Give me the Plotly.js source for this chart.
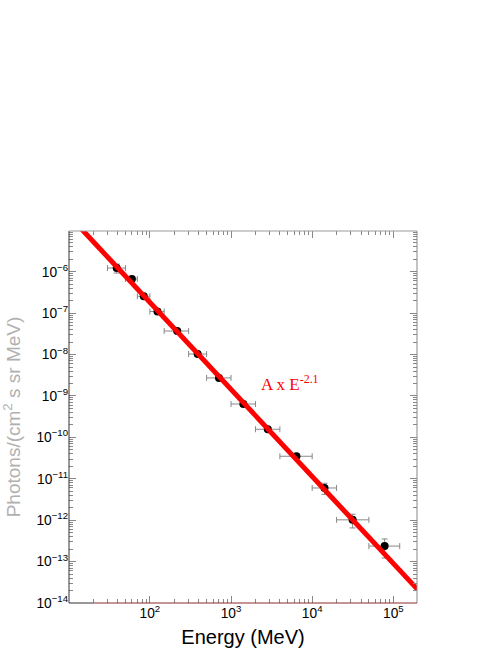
<!DOCTYPE html>
<html>
<head>
<meta charset="utf-8">
<script src="https://cdn.plot.ly/plotly-3.0.1.min.js"></script>
<style>html,body{margin:0;padding:0;background:#fff;}#chart{width:501px;height:649px;}</style>
</head>
<body>
<div id="chart"></div>
<script>
// Measured points (energy in MeV, flux in photons/(cm^2 s sr MeV))
var energy   = [39, 60, 84, 124, 217, 388, 711, 1419, 2840, 6400, 14200, 31500, 78200];
var binLow   = [30, 50, 70, 100, 150, 300, 500, 1000, 2000, 4000, 10000, 20000, 50000];
var binHigh  = [50, 70, 100, 150, 300, 500, 1000, 2000, 4000, 10000, 20000, 50000, 120000];
var flux     = [1.23e-6, 6.7e-7, 2.56e-7, 1.1e-7, 3.7e-8, 1.03e-8, 2.73e-9, 6.4e-10, 1.57e-10, 3.5e-11, 6.0e-12, 1.02e-12, 2.37e-13];
var fluxErr  = [3.0e-7, 6e-8, 2.5e-8, 1e-8, 3e-9, 1e-9, 2.5e-10, 6e-11, 1.5e-11, 4e-12, 1.8e-12, 3.7e-13, 1.15e-13];
// Power-law fit line A x E^-2.1 (end points)
var fitE = [10, 200000];
var fitF = [2.3e-5, 2.1e-14];
var fitLabel = 'A x E<sup>-2.1</sup>';
var xTitle = 'Energy (MeV)';
var yTitle = 'Photons/(cm<sup>2</sup> s sr MeV)';

var errPlus = binHigh.map(function(h, i){ return h - energy[i]; });
var errMinus = binLow.map(function(l, i){ return energy[i] - l; });

var traces = [
  {
    x: energy, y: flux, type: 'scatter', mode: 'markers',
    marker: {color: '#000', size: 8},
    error_x: {type: 'data', symmetric: false, array: errPlus, arrayminus: errMinus, color: '#888', thickness: 1, width: 3},
    error_y: {type: 'data', array: fluxErr, color: '#888', thickness: 1, width: 3},
    hoverinfo: 'x+y'
  },
  {
    x: fitE, y: fitF, type: 'scatter', mode: 'lines',
    line: {color: '#ff0000', width: 5}, hoverinfo: 'skip'
  }
];

var tickFont = {family: 'Liberation Sans, Arial, sans-serif', size: 11, color: '#000'};

var layout = {
  width: 501, height: 649,
  margin: {l: 69, r: 84, t: 231, b: 46},
  paper_bgcolor: '#fff', plot_bgcolor: '#fff',
  showlegend: false,
  xaxis: {
    type: 'log', range: [1.003, 5.292], dtick: 1,
    exponentformat: 'power', showgrid: false, zeroline: false,
    showline: false, mirror: 'ticks',
    ticks: 'inside', ticklen: 7, tickcolor: '#888', tickwidth: 1,
    minor: {ticks: 'inside', ticklen: 4, tickcolor: '#888', dtick: 'D1', showgrid: false},
    tickfont: tickFont,
    title: {text: xTitle, font: {family: 'Liberation Sans, Arial, sans-serif', size: 20, color: '#000'}, standoff: 10}
  },
  yaxis: {
    type: 'log', range: [-14, -5.016], dtick: 1,
    exponentformat: 'power', showgrid: false, zeroline: false,
    showline: false, mirror: 'ticks',
    ticks: 'inside', ticklen: 7, tickcolor: '#888', tickwidth: 1,
    minor: {ticks: 'inside', ticklen: 4, tickcolor: '#888', dtick: 'D1', showgrid: false},
    tickfont: tickFont,
    title: {text: yTitle, font: {family: 'Liberation Sans, Arial, sans-serif', size: 19, color: '#b0b0b0'}, standoff: 15}
  },
  shapes: [
    {type: 'line', xref: 'paper', yref: 'paper', x0: 0, x1: 0, y0: 0, y1: 1, line: {color: '#333', width: 1}},
    {type: 'line', xref: 'paper', yref: 'paper', x0: 1, x1: 1, y0: 0, y1: 1, line: {color: '#888', width: 1}},
    {type: 'line', xref: 'paper', yref: 'paper', x0: 0, x1: 1, y0: 1, y1: 1, line: {color: '#999', width: 1}},
    {type: 'line', xref: 'paper', yref: 'paper', x0: 0, x1: 0.07, y0: 0, y1: 0, line: {color: '#333', width: 1}},
    {type: 'line', xref: 'paper', yref: 'paper', x0: 0.07, x1: 1, y0: 0, y1: 0, line: {color: '#8b2a2a', width: 1}}
  ],
  annotations: [
    {text: fitLabel, xref: 'x', yref: 'y', x: 3.346, y: -8.68, xanchor: 'left', yanchor: 'middle',
     showarrow: false, font: {family: 'Liberation Serif, Times New Roman, serif', size: 17, color: '#ff0000'}}
  ]
};

Plotly.newPlot('chart', traces, layout, {displayModeBar: false, staticPlot: true});
</script>
</body>
</html>
